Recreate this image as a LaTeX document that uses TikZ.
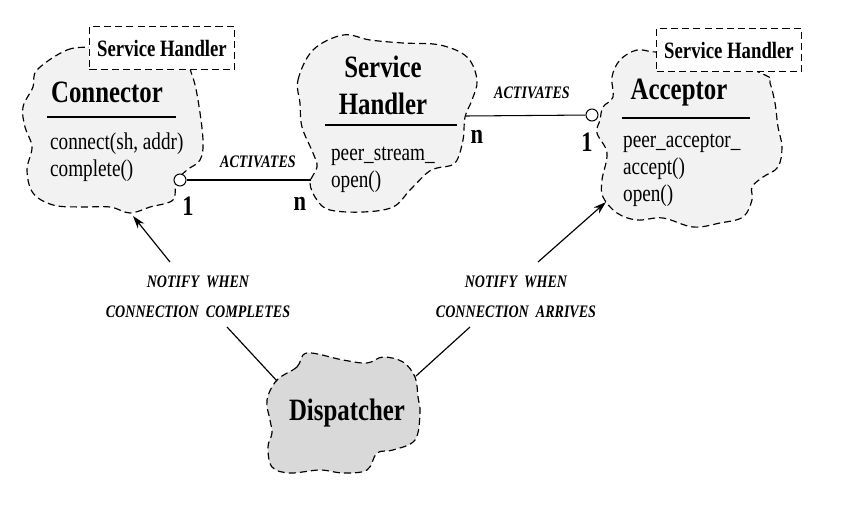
\documentclass[tikz,border=0pt]{standalone}
\usepackage{fontspec}
\setmainfont{Liberation Serif}[FakeStretch=0.8]
\usepackage{tikz}
\usetikzlibrary{arrows.meta,positioning,calc}
\definecolor{CloudGray}{HTML}{F2F2F2}
\definecolor{DispGray}{HTML}{D9D9D9}
\tikzset{
  cloud/.style={draw,dash pattern=on 6pt off 3.5pt,line width=1pt,fill=CloudGray},
  shbox/.style={draw,dash pattern=on 6pt off 3.5pt,line width=1pt,fill=white,
    minimum width=4.35cm,minimum height=1.3cm,font=\fontsize{20}{22}\selectfont\bfseries},
  classname/.style={font=\fontsize{26.5}{31.5}\selectfont\bfseries,align=center},
  ops/.style={font=\fontsize{20.5}{23}\selectfont,align=left,anchor=west},
  role/.style={font=\fontsize{15}{16}\selectfont\bfseries\itshape},
  note/.style={font=\fontsize{15}{25.5}\selectfont\bfseries\itshape,align=center},
  mult/.style={font=\fontsize{24}{26}\selectfont\bfseries},
  circ/.style={circle,draw,fill=white,inner sep=0pt,minimum size=0.36cm,line width=0.9pt},
  notify/.style={-{Stealth[length=11pt,width=7pt]},line width=1pt}
}

\begin{document}
\begin{tikzpicture}[x=0.03cm,y=-0.03cm]
  \useasboundingbox (0,0) rectangle (854,528);

  % clouds
  \draw[cloud] plot[smooth cycle,tension=0.6] coordinates {(37,70) (67,50) (95,47) (140,45) (180,52)
    (192,75) (198,100) (203,140) (200,160) (187,170) (176,182) (173,200) (150,207) (130,213)
    (110,207) (80,207) (53,205) (33,193) (27,170) (32,147) (25,127) (23,107) (33,87)};
  \draw[cloud] plot[smooth cycle,tension=0.6] coordinates {(300,103) (298,80) (313,50) (343,35)
    (370,40) (403,43) (440,45) (467,57) (477,80) (472,100) (465,117) (463,140) (455,163) (437,168)
    (427,173) (410,190) (393,207) (363,212) (330,210) (317,200) (310,183) (317,167) (313,153) (302,127)};
  \draw[cloud] plot[smooth cycle,tension=0.6] coordinates {(637,50) (657,52) (700,50) (765,75)
    (770,83) (775,103) (778,127) (782,147) (778,167) (763,177) (752,187) (752,200) (743,217)
    (720,223) (693,227) (663,218) (637,220) (617,213) (603,197) (602,180) (607,153) (597,133)
    (600,120) (603,107) (613,97) (612,77) (620,60)};
  \draw[cloud,fill=DispGray] plot[smooth cycle,tension=0.6] coordinates {(277,380) (297,367)
    (307,353) (343,360) (367,363) (383,357) (403,362) (415,377) (418,397) (420,413) (415,440)
    (393,450) (377,453) (367,470) (343,473) (320,470) (290,473) (272,467) (268,447) (272,433)
    (270,420) (267,400)};

  % template boxes
  \node[shbox] (conSH) at (162,48) {Service Handler};
  \node[shbox] (accSH) at (729,50) {Service Handler};

  % Connector
  \node[classname] (conName) at (107,92) {Connector};
  \draw[line width=1pt] (47,117) -- (176,117);
  \node[ops] (conOps) at (46,157) {connect(sh, addr)\\complete()};

  % Service Handler
  \node[classname] (shName) at (383,85) {Service\\Handler};
  \draw[line width=1pt] (325,125) -- (457,125);
  \node[ops] (shOps) at (327,170) {peer\_stream\_\\open()};

  % Acceptor
  \node[classname] (accName) at (679,93) {Acceptor};
  \draw[line width=1pt] (622,118) -- (750,118);
  \node[ops] (accOps) at (619,170) {peer\_acceptor\_\\accept()\\open()};

  % Dispatcher
  \node[classname] (disName) at (347,413) {Dispatcher};

  % associations
  \node[circ] (conC) at (180,180) {};
  \node[circ] (accC) at (592,115) {};
  \coordinate (shL) at (311,180);
  \coordinate (shR) at (466,116);
  \draw[line width=0.9pt] (conC) -- (shL);
  \draw[line width=0.9pt] (shR) -- (accC);
  \node[role] (actL) at (258,162) {ACTIVATES};
  \node[role] (actR) at (532,93) {ACTIVATES};
  \node[mult] (m1) at (188,206) {1};
  \node[mult] (m2) at (300,204) {n};
  \node[mult] (m3) at (477,137) {n};
  \node[mult] (m4) at (587,142) {1};

  % notifications
  \node[note] (notifyL) at (198,297) {NOTIFY\ \ WHEN\\CONNECTION\ \ COMPLETES};
  \node[note] (notifyR) at (516,297) {NOTIFY\ \ WHEN\\CONNECTION\ \ ARRIVES};
  \coordinate (disL) at (277,381);
  \coordinate (disR) at (416,376);
  \coordinate (conB) at (133,216);
  \coordinate (accB) at (606,202);
  \coordinate (nlB) at (227,327);
  \coordinate (nlT) at (170,262);
  \coordinate (nrB) at (470,327);
  \coordinate (nrT) at (538,262);
  \draw[line width=1pt] (disL) -- (nlB);
  \draw[notify] (nlT) -- (conB);
  \draw[line width=1pt] (disR) -- (nrB);
  \draw[notify] (nrT) -- (accB);
\end{tikzpicture}
\end{document}
